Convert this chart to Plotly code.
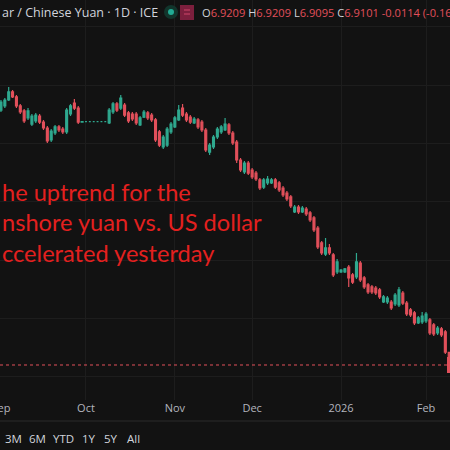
import plotly.graph_objects as go
import pandas as pd

# ---------------- data (USD/CNY daily candles) ----------------
dates = pd.bdate_range("2025-09-01", "2026-02-10")

opens = [
    7.1286, 7.1321, 7.1372, 7.1441, 7.1398, 7.1321, 7.1278, 7.1218, 7.1166, 7.1192,
    7.1235, 7.1183, 7.1132, 7.1029, 7.1089, 7.1141, 7.1123, 7.1098, 7.1252, 7.1346,
    7.1303, 7.1183,
    7.1186, 7.1186, 7.1186, 7.1186, 7.1186, 7.1186, 7.1175, 7.1269, 7.1338, 7.1303,
    7.1329, 7.1261, 7.1252, 7.1252, 7.1158, 7.1226, 7.1261, 7.1243, 7.1201, 7.1098,
    7.0969, 7.0986, 7.1098,
    7.1141, 7.1201, 7.1303, 7.1252, 7.1226, 7.1175, 7.1201, 7.1183, 7.1115, 7.0926,
    7.0969, 7.1055, 7.1098, 7.1115, 7.1158, 7.1089, 7.1012, 7.0858, 7.0755, 7.0832,
    7.0772, 7.0746, 7.0687, 7.0626, 7.0661, 7.0661, 7.0687, 7.0661, 7.0618, 7.0575,
    7.0541, 7.0412, 7.0455, 7.0412, 7.0438, 7.0404, 7.0361, 7.0275, 7.0147, 7.0052,
    7.0104, 7.0044, 6.9898,
    6.9898, 6.9898, 6.9941, 6.9873, 6.9855, 6.9975, 6.9847, 6.9787, 6.9770, 6.9761,
    6.9744, 6.9641, 6.9641, 6.9641, 6.9624, 6.9616, 6.9718, 6.9632, 6.9573, 6.9547,
    6.9461, 6.9470,
    6.9478, 6.9487, 6.9444, 6.9375, 6.9410, 6.9384, 6.9209,
]
highs = [
    7.1372, 7.1389, 7.1483, 7.1458, 7.1415, 7.1338, 7.1295, 7.1303, 7.1252, 7.1261,
    7.1252, 7.1201, 7.1149, 7.1123, 7.1158, 7.1158, 7.1141, 7.1303, 7.1338, 7.1381,
    7.1321, 7.1190,
    7.1188, 7.1188, 7.1188, 7.1188, 7.1188, 7.1188, 7.1303, 7.1355, 7.1355, 7.1415,
    7.1346, 7.1278, 7.1269, 7.1269, 7.1235, 7.1286, 7.1278, 7.1261, 7.1218, 7.1115,
    7.1072, 7.1141, 7.1183,
    7.1235, 7.1329, 7.1338, 7.1269, 7.1243, 7.1226, 7.1218, 7.1201, 7.1132, 7.1004,
    7.1072, 7.1141, 7.1158, 7.1218, 7.1175, 7.1106, 7.1029, 7.0875, 7.0849, 7.0849,
    7.0789, 7.0764, 7.0704, 7.0704, 7.0721, 7.0704, 7.0704, 7.0678, 7.0635, 7.0592,
    7.0558, 7.0472, 7.0472, 7.0464, 7.0455, 7.0421, 7.0378, 7.0292, 7.0164, 7.0189,
    7.0138, 7.0061, 7.0009,
    6.9924, 6.9932, 6.9958, 6.9889, 7.0061, 6.9992, 6.9864, 6.9804, 6.9787, 6.9778,
    6.9761, 6.9701, 6.9692, 6.9658, 6.9718, 6.9770, 6.9735, 6.9649, 6.9590, 6.9564,
    6.9521, 6.9555,
    6.9555, 6.9504, 6.9461, 6.9435, 6.9427, 6.9401, 6.9209,
]
lows = [
    7.1269, 7.1303, 7.1363, 7.1389, 7.1303, 7.1252, 7.1175, 7.1201, 7.1149, 7.1175,
    7.1166, 7.1115, 7.1004, 7.1012, 7.1072, 7.1098, 7.1081, 7.1081, 7.1235, 7.1286,
    7.1166, 7.1180,
    7.1184, 7.1184, 7.1184, 7.1184, 7.1184, 7.1184, 7.1166, 7.1252, 7.1269, 7.1286,
    7.1226, 7.1175, 7.1192, 7.1158, 7.1149, 7.1218, 7.1201, 7.1183, 7.1012, 7.0969,
    7.0952, 7.0969, 7.1081,
    7.1132, 7.1192, 7.1226, 7.1183, 7.1166, 7.1166, 7.1123, 7.1098, 7.0926, 7.0901,
    7.0952, 7.1038, 7.1081, 7.1106, 7.1072, 7.0986, 7.0832, 7.0755, 7.0738, 7.0729,
    7.0695, 7.0678, 7.0601, 7.0609, 7.0644, 7.0652, 7.0609, 7.0584, 7.0541, 7.0506,
    7.0446, 7.0404, 7.0395, 7.0404, 7.0378, 7.0327, 7.0241, 7.0095, 7.0044, 7.0035,
    7.0044, 6.9855, 6.9881,
    6.9889, 6.9889, 6.9770, 6.9795, 6.9838, 6.9812, 6.9752, 6.9709, 6.9709, 6.9701,
    6.9667, 6.9632, 6.9624, 6.9573, 6.9607, 6.9598, 6.9616, 6.9521, 6.9512, 6.9444,
    6.9452, 6.9452,
    6.9461, 6.9359, 6.9350, 6.9359, 6.9341, 6.9195, 6.9095,
]
closes = [
    7.1355, 7.1372, 7.1441, 7.1398, 7.1321, 7.1269, 7.1192, 7.1278, 7.1235, 7.1243,
    7.1183, 7.1132, 7.1021, 7.1106, 7.1141, 7.1115, 7.1098, 7.1286, 7.1321, 7.1303,
    7.1183, 7.1186,
    7.1186, 7.1186, 7.1186, 7.1186, 7.1186, 7.1186, 7.1286, 7.1338, 7.1286, 7.1389,
    7.1243, 7.1192, 7.1209, 7.1175, 7.1218, 7.1269, 7.1218, 7.1201, 7.1029, 7.0986,
    7.1055, 7.1123, 7.1166,
    7.1218, 7.1286, 7.1243, 7.1201, 7.1183, 7.1209, 7.1141, 7.1115, 7.0944, 7.0986,
    7.1055, 7.1123, 7.1141, 7.1166, 7.1089, 7.1004, 7.0858, 7.0772, 7.0832, 7.0746,
    7.0712, 7.0695, 7.0618, 7.0687, 7.0695, 7.0687, 7.0626, 7.0601, 7.0558, 7.0524,
    7.0464, 7.0455, 7.0412, 7.0446, 7.0395, 7.0344, 7.0258, 7.0112, 7.0061, 7.0104,
    7.0061, 6.9873, 6.9984,
    6.9915, 6.9924, 6.9847, 6.9812, 6.9984, 6.9830, 6.9770, 6.9727, 6.9727, 6.9718,
    6.9684, 6.9684, 6.9675, 6.9590, 6.9701, 6.9744, 6.9632, 6.9538, 6.9530, 6.9461,
    6.9504, 6.9521,
    6.9538, 6.9375, 6.9367, 6.9418, 6.9359, 6.9212, 6.9101,
]

tick_dates = ["2025-09-01", "2025-10-01", "2025-11-03", "2025-12-01", "2026-01-01", "2026-02-02"]
tick_labels = ["Sep", "Oct", "Nov", "Dec", "2026", "Feb"]
range_buttons = ["3M", "6M", "YTD", "1Y", "5Y", "All"]
range_button_x = [13, 37, 63, 89, 111, 133]

header_title = "ar / Chinese Yuan · 1D · ICE"
ohlc_labels = ["O", "H", "L", "C"]
ohlc_values = ["6.9209", "6.9209", "6.9095", "6.9101"]
change_text = "-0.0114 (-0.16%)"
note_lines = ["he uptrend for the", "nshore yuan vs. US dollar", "ccelerated yesterday"]

# ---------------- styling ----------------
BG = "#121212"
GRID = "#1d1d1d"
UP = "#2fa98f"
DOWN = "#e2505b"
TXT = "#d1d4dc"
AXTXT = "#b2b5be"
NOTE_RED = "#e3201f"
W, H = 450, 450
PLOT_H = 400


def py(pix):
    return (PLOT_H - pix) / PLOT_H


fig = go.Figure(
    go.Candlestick(
        x=dates, open=opens, high=highs, low=lows, close=closes,
        increasing=dict(line=dict(color=UP, width=1.2), fillcolor=UP),
        decreasing=dict(line=dict(color=DOWN, width=1.2), fillcolor=DOWN),
        whiskerwidth=0, hoverinfo="skip",
    )
)

annotations = [
    dict(text=header_title, x=0, y=py(12), xref="paper", yref="paper", xanchor="left",
         yanchor="middle", showarrow=False, font=dict(family="Open Sans", size=12.5, color=TXT)),
]
ohlc_html = " ".join(
    f'<span style="color:{TXT}">{l}</span><span style="color:{DOWN}">{v}</span>'
    for l, v in zip(ohlc_labels, ohlc_values)
) + f' <span style="color:{DOWN}">{change_text}</span>'
annotations.append(dict(text=ohlc_html, x=200 / W, y=py(12), xref="paper", yref="paper",
                        xanchor="left", yanchor="middle", showarrow=False,
                        font=dict(family="Open Sans", size=11.1, color=DOWN)))
for i, line in enumerate(note_lines):
    annotations.append(dict(text=line, x=0, y=py(191.5 + 30.5 * i), xref="paper", yref="paper",
                            xanchor="left", yanchor="middle", showarrow=False,
                            font=dict(family="Lato", size=23.6, color=NOTE_RED)))
for lab, bx in zip(range_buttons, range_button_x):
    annotations.append(dict(text=lab, x=bx / W, y=py(438), xref="paper", yref="paper",
                            xanchor="center", yanchor="middle", showarrow=False,
                            font=dict(family="Open Sans", size=11.5, color=TXT)))

shapes = [
    # last price dotted line
    dict(type="line", xref="paper", yref="y", x0=0, x1=1, y0=closes[-1], y1=closes[-1],
         line=dict(color=DOWN, width=1, dash="dot")),
    # price tag edge
    dict(type="rect", xref="paper", yref="paper", x0=447 / W, x1=1, y0=py(373), y1=py(357),
         fillcolor=DOWN, line=dict(width=0)),
    # separator above range buttons
    dict(type="line", xref="paper", yref="paper", x0=0, x1=1, y0=py(421), y1=py(421),
         line=dict(color="#2a2a2a", width=1)),
    # status dot
    dict(type="circle", xref="paper", yref="paper", x0=164 / W, x1=178 / W, y0=py(19), y1=py(5),
         fillcolor="#12352c", line=dict(width=0)),
    dict(type="circle", xref="paper", yref="paper", x0=168 / W, x1=174 / W, y0=py(15), y1=py(9),
         fillcolor="#22ab94", line=dict(width=0)),
    # red badge
    dict(type="rect", xref="paper", yref="paper", x0=180 / W, x1=194 / W, y0=py(20), y1=py(5),
         fillcolor="#7c1f3d", line=dict(width=0)),
    dict(type="line", xref="paper", yref="paper", x0=184 / W, x1=190 / W, y0=py(10), y1=py(10),
         line=dict(color="#d0466b", width=1)),
    dict(type="line", xref="paper", yref="paper", x0=184 / W, x1=190 / W, y0=py(14), y1=py(14),
         line=dict(color="#d0466b", width=1)),
]

fig.update_layout(
    width=W, height=H,
    margin=dict(l=0, r=0, t=0, b=H - PLOT_H),
    paper_bgcolor=BG, plot_bgcolor=BG,
    showlegend=False,
    annotations=annotations,
    shapes=shapes,
    xaxis=dict(
        type="date",
        range=["2025-08-29 18:00", "2026-02-10 05:00"],
        rangebreaks=[dict(bounds=["sat", "mon"])],
        rangeslider=dict(visible=False),
        tickvals=tick_dates, ticktext=tick_labels,
        tickfont=dict(family="Open Sans", size=11, color=AXTXT),
        showgrid=True, gridcolor=GRID, gridwidth=1,
        zeroline=False, showline=False, ticks="",
        automargin=False, ticklabeloverflow="allow",
        fixedrange=True,
    ),
    yaxis=dict(
        range=[6.8801, 7.2229],
        showticklabels=False, tick0=6.9, dtick=0.05,
        showgrid=True, gridcolor=GRID, gridwidth=1,
        zeroline=False, showline=False, ticks="",
        automargin=False, fixedrange=True,
    ),
)

fig.write_html("out.html", config={"displayModeBar": False},
               post_script="document.body.style.margin='0';")
